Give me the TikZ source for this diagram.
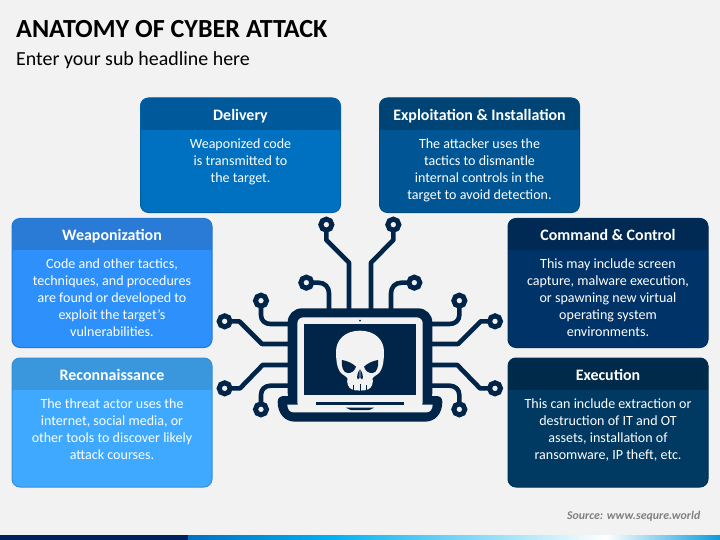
\documentclass[tikz,border=0pt]{standalone}
\usepackage{fontspec}
\setmainfont{Carlito}
\definecolor{bg}{HTML}{F2F2F2}
\definecolor{navy}{HTML}{002549}
\definecolor{delBody}{HTML}{0070C0}
\definecolor{delHead}{HTML}{00599A}
\definecolor{delLine}{HTML}{0060A6}
\definecolor{expBody}{HTML}{005694}
\definecolor{expHead}{HTML}{004476}
\definecolor{expLine}{HTML}{004A80}
\definecolor{weaBody}{HTML}{2E90FA}
\definecolor{weaHead}{HTML}{2A7BD6}
\definecolor{weaLine}{HTML}{2478CF}
\definecolor{recBody}{HTML}{3FA9FF}
\definecolor{recHead}{HTML}{3A97DE}
\definecolor{recLine}{HTML}{368ED2}
\definecolor{comBody}{HTML}{003468}
\definecolor{comHead}{HTML}{002A54}
\definecolor{comLine}{HTML}{002C58}
\definecolor{excBody}{HTML}{003962}
\definecolor{excHead}{HTML}{002A4A}
\definecolor{excLine}{HTML}{002F52}
\tikzset{
  cardshape/.style={rectangle,rounded corners=8bp,minimum width=200bp,anchor=north west,inner sep=0pt,outer sep=0pt,line width=1bp},
  cardtitle/.style={text=white,font=\fontsize{16}{18}\selectfont\bfseries,anchor=base,inner sep=0pt},
  cardtext/.style={text=white,font=\fontsize{14.1}{17}\selectfont,align=center,anchor=north,inner sep=0pt},
  trace/.style={draw=navy,line width=4.6bp,line cap=round,line join=round},
  pad/.style={draw=navy,fill=bg,line width=5bp,circle,minimum size=11bp,inner sep=0pt,outer sep=0pt},
  shell/.style={fill=navy},
  cutout/.style={fill=bg},
}
% name, x0, y0, height, colour prefix, title, text
\newcommand{\card}[7]{%
  \node[cardshape,fill=#5Body,minimum height=#4bp] (#1) at (#2,#3) {};
  \fill[#5Head,rounded corners=7.5bp] (#2,#3) rectangle (#2+200,#3+20);
  \fill[#5Head] (#2,#3+10) rectangle (#2+200,#3+32);
  \node[cardshape,draw=#5Line,minimum height=#4bp] (#1F) at (#2,#3) {};
  \node[cardtitle] (#1T) at (#2+100,#3+22.3) {#6};
  \node[cardtext] (#1B) at (#2+100,#3+38) {\rule{0pt}{12bp}#7};
}
\begin{document}
\begin{tikzpicture}[x=1bp,y=-1bp]
\useasboundingbox (0,0) rectangle (720,540);
\fill[bg] (0,0) rectangle (720,540);
% title
\node[anchor=base west,inner sep=0pt,font=\fontsize{26.2}{30}\selectfont\bfseries,text=black] (title) at (16,38) {ANATOMY OF CYBER ATTACK};
\node[anchor=base west,inner sep=0pt,font=\fontsize{20}{22}\selectfont,text=black] (subtitle) at (16,66) {Enter your sub headline here};
% cards
\card{delivery}{140.5}{98}{114.5}{del}{Delivery}{Weaponized code\\is transmitted to\\the target.}
\card{exploit}{379.5}{98}{114.5}{exp}{Exploitation \& Installation}{The attacker uses the\\tactics to dismantle\\internal controls in the\\target to avoid detection.}
\card{weapon}{12}{218.5}{129}{wea}{Weaponization}{Code and other tactics,\\techniques, and procedures\\are found or developed to\\exploit the target’s\\vulnerabilities.}
\card{recon}{12}{358}{129}{rec}{Reconnaissance}{The threat actor uses the\\internet, social media, or\\other tools to discover likely\\attack courses.}
\card{command}{508}{218.5}{129}{com}{Command \& Control}{This may include screen\\capture, malware execution,\\or spawning new virtual\\operating system\\environments.}
\card{execution}{508}{358}{129}{exc}{Execution}{This can include extraction or\\destruction of IT and OT\\assets, installation of\\ransomware, IP theft, etc.}
% icon, in coordinates of a 3x grid
\begin{scope}[shift={(210,210)},x=1bp/3,y=-1bp/3]
  % traces
  \draw[trace] (349,44) -- (349,90) -- (417,158) -- (417,300);
  \draw[trace] (550,44) -- (550,90) -- (483,158) -- (483,300);
  \draw[trace] (289,218) -- (325,218) .. controls (345,218) and (357,232) .. (357,250) -- (357,300);
  \draw[trace] (613,218) -- (575,218) .. controls (555,218) and (543,232) .. (543,250) -- (543,300);
  \draw[trace] (153,272) -- (153,315) .. controls (153,332) and (165,342) .. (182,342) -- (240,342);
  \draw[trace] (748,272) -- (748,315) .. controls (748,332) and (735,342) .. (718,342) -- (660,342);
  \draw[trace] (44,334) -- (88,334) -- (156,402) -- (240,402);
  \draw[trace] (855,334) -- (812,334) -- (744,402) -- (660,402);
  \draw[trace] (44,535) -- (90,535) -- (158,465) -- (240,465);
  \draw[trace] (855,535) -- (810,535) -- (742,465) -- (660,465);
  \draw[trace] (153,598) -- (153,555) .. controls (153,538) and (165,527) .. (182,527) -- (240,527);
  \draw[trace] (748,598) -- (748,555) .. controls (748,538) and (735,527) .. (718,527) -- (660,527);
  % pads
  \foreach \n/\px/\py in {pa/349/44,pb/550/44,pc/289/218,pd/613/218,pe/153/272,pf/748/272,pg/44/334,ph/855/334,pi/44/535,pj/855/535,pk/153/598,pl/748/598}
    \node[pad] (\n) at (\px,\py) {};
  % base
  \fill[shell] (203,575) .. controls (203,563) and (212,558) .. (222,558) -- (678,558) .. controls (688,558) and (697,563) .. (697,575)
     .. controls (697,612) and (675,635) .. (645,635) -- (255,635) .. controls (225,635) and (203,612) .. (203,575) -- cycle;
  % lid
  \fill[shell,rounded corners=14bp] (233,590) -- (233,295) -- (667,295) -- (667,590) -- cycle;
  \fill[cutout,rounded corners=6bp] (262,595) -- (262,322) -- (638,322) -- (638,595) -- cycle;
  \fill[cutout] (232,584) -- (668,584) .. controls (668,598) and (660,607) .. (650,607) -- (250,607) .. controls (240,607) and (232,598) .. (232,584) -- cycle;
  \fill[shell] (282,343) rectangle (618,556);
  \fill[shell] (318,577) rectangle (582,584);
  \fill[shell] (408,593) -- (492,593) -- (478,600) -- (422,600) -- cycle;
  \fill[shell] (450,332) circle [radius=3];
  % skull
  \fill[cutout] (450,362) .. controls (495,362) and (522,390) .. (522,425)
     .. controls (522,445) and (520,470) .. (512,482)
     .. controls (508,492) and (495,496) .. (488,504)
     .. controls (490,520) and (486,532) .. (475,538)
     .. controls (465,543) and (435,543) .. (425,538)
     .. controls (414,532) and (410,520) .. (412,504)
     .. controls (405,496) and (392,492) .. (388,482)
     .. controls (380,470) and (378,445) .. (378,425)
     .. controls (378,390) and (405,362) .. (450,362) -- cycle;
  \fill[shell] (396,450) .. controls (410,452) and (428,460) .. (438,470)
     .. controls (434,482) and (426,490) .. (412,489) .. controls (400,488) and (393,470) .. (396,450) -- cycle;
  \fill[shell] (504,450) .. controls (490,452) and (472,460) .. (462,470)
     .. controls (466,482) and (474,490) .. (488,489) .. controls (500,488) and (507,470) .. (504,450) -- cycle;
  \fill[shell] (449,478) .. controls (443,488) and (439,500) .. (443,508) -- (449,504) -- cycle;
  \fill[shell] (451,478) .. controls (457,488) and (461,500) .. (457,508) -- (451,504) -- cycle;
  \fill[shell] (449,522) rectangle (451,542);
  \fill[shell] (430,524) rectangle (432,540);
  \fill[shell] (468,524) rectangle (470,540);
\end{scope}
% source
\node[anchor=base east,inner sep=0pt,font=\fontsize{11.9}{13}\selectfont\bfseries\itshape,text=black!50] (source) at (700.5,519.5) {Source: www.sequre.world};
% bottom band
\fill[color={rgb,255:red,0;green,32;blue,96}] (0,535) rectangle (188,540);
\shade[left color={rgb,255:red,0;green,112;blue,192},right color={rgb,255:red,0;green,176;blue,240}] (188,535) rectangle (330,540);
\shade[left color={rgb,255:red,0;green,176;blue,240},right color=white] (329.5,535) rectangle (606,540);
\shade[left color=white,right color={rgb,255:red,10;green,155;blue,220}] (605.5,535) rectangle (720,540);
\end{tikzpicture}
\end{document}
